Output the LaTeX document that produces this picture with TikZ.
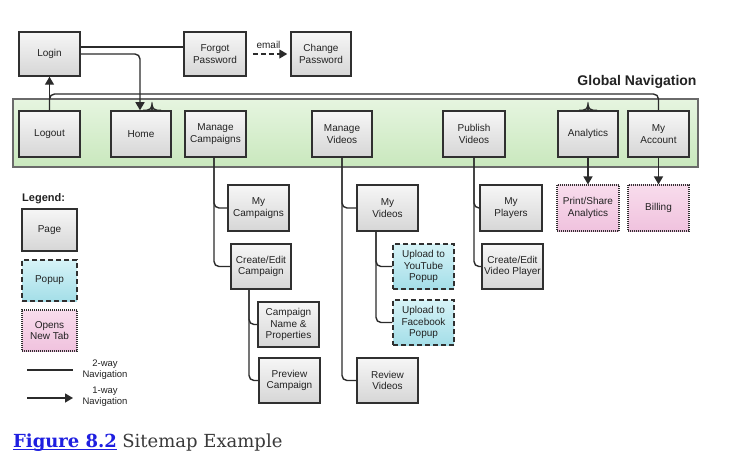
\documentclass[tikz,border=0pt]{standalone}
\usepackage{fontspec}
\setmainfont{Liberation Sans}
\newfontfamily\capfont{DejaVu Serif}
\usetikzlibrary{arrows.meta,calc}
\definecolor{boxline}{HTML}{303030}
\definecolor{linkcol}{HTML}{2B2B2B}
\definecolor{txt}{HTML}{222222}
\definecolor{pagetop}{HTML}{F6F6F6}
\definecolor{pagebot}{HTML}{D6D6D6}
\definecolor{bandtop}{HTML}{E6F5E0}
\definecolor{bandbot}{HTML}{C9E8BD}
\definecolor{bandline}{HTML}{6A6A6A}
\definecolor{poptop}{HTML}{D6F3F7}
\definecolor{popbot}{HTML}{A4DEE8}
\definecolor{tabtop}{HTML}{F8DCEC}
\definecolor{tabbot}{HTML}{F0C2DE}
\definecolor{capblue}{HTML}{1F1FE0}
\definecolor{capgray}{HTML}{3A3A3A}
\tikzset{
  x=1pt,y=-1pt,
  boxtext/.style={font=\fontsize{10}{11.6}\selectfont, text=txt, align=center, inner sep=0pt},
  pagebox/.style={boxtext, draw=boxline, line width=1.5pt, top color=pagetop, bottom color=pagebot, minimum width=61pt, minimum height=45pt},
  popbox/.style={boxtext, draw=boxline, line width=1.5pt, dash pattern=on 5pt off 3pt, top color=poptop, bottom color=popbot, minimum width=61pt, minimum height=45pt},
  tabbox/.style={boxtext, draw=boxline, line width=1.1pt, dash pattern=on 1pt off 1pt, top color=tabtop, bottom color=tabbot, minimum width=61pt, minimum height=45pt},
  twoway/.style={draw=linkcol, line width=1.4pt, rounded corners=5pt},
  oneway/.style={draw=linkcol, line width=1.4pt, rounded corners=5pt, -{Triangle[width=9pt,length=8pt]}},
  labeltext/.style={font=\fontsize{9.5}{11}\selectfont, text=txt, align=center, inner sep=0pt},
}
\begin{document}
\begin{tikzpicture}
\useasboundingbox (0,0) rectangle (750,468);
% global navigation band
\node[draw=bandline, line width=1.1pt, top color=bandtop, bottom color=bandbot, minimum width=685pt, minimum height=68pt, inner sep=0pt] (band) at (355.5,133) {};
\node[font=\bfseries\fontsize{14}{16}\selectfont, text=txt, inner sep=0pt] (gnlabel) at (637,82) {Global Navigation};
\coordinate (gn) at (0,94);

% top row
\node[pagebox, minimum height=44pt] (login) at (49.5,54) {Login};
\node[pagebox, minimum width=62pt, minimum height=44pt] (forgot) at (215,54) {Forgot\\Password};
\node[pagebox, minimum width=60pt, minimum height=44pt] (change) at (321,54) {Change\\Password};

% nav row
\node[pagebox, minimum height=46pt] (logout) at (49.5,134) {Logout};
\node[pagebox, minimum width=60pt, minimum height=46pt] (home) at (141,134) {Home};
\node[pagebox, minimum height=46pt] (mcamp) at (215.5,134) {Manage\\Campaigns};
\node[pagebox, minimum width=60pt, minimum height=46pt] (mvid) at (342,134) {Manage\\Videos};
\node[pagebox, minimum width=62pt, minimum height=46pt] (pubvid) at (474,134) {Publish\\Videos};
\node[pagebox, minimum width=60pt, minimum height=46pt] (analytics) at (588,134) {Analytics};
\node[pagebox, minimum height=46pt] (myacct) at (658.5,134) {My\\Account};

% sub pages
\node[pagebox, minimum height=46pt] (mycamp) at (258.5,208) {My\\Campaigns};
\node[pagebox, minimum width=60pt] (cecamp) at (261,266.5) {Create/Edit\\Campaign};
\node[pagebox] (cnp) at (288.5,324.5) {Campaign\\Name \&\\Properties};
\node[pagebox] (prevcamp) at (289.5,380.5) {Preview\\Campaign};
\node[pagebox, minimum height=46pt] (myvid) at (387.5,208) {My\\Videos};
\node[popbox] (yt) at (423.5,266.5) {Upload to\\YouTube\\Popup};
\node[popbox] (fb) at (423.5,322.5) {Upload to\\Facebook\\Popup};
\node[pagebox] (revvid) at (387.5,380.5) {Review\\Videos};
\node[pagebox, minimum width=62pt, minimum height=46pt] (myplayers) at (511,208) {My\\Players};
\node[pagebox] (cevp) at (512.5,266.5) {Create/Edit\\Video Player};
\node[tabbox, minimum width=62pt, minimum height=46pt] (print) at (588,208) {Print/Share\\Analytics};
\node[tabbox, minimum height=46pt] (billing) at (658.5,208) {Billing};

% top connectors
\draw[twoway] ($(login.east)+(0,-7)$) -- ($(forgot.west)+(0,-7)$);
\draw[oneway] (login.east) -| ($(home.north)+(-1,0)$);
\draw[oneway] (logout.north) -- (login.south);
\draw[draw=linkcol, line width=1.4pt, dash pattern=on 5pt off 3pt, shorten <=6pt, shorten >=3pt, -{Triangle[width=9pt,length=8pt]}] (forgot.east) -- node[labeltext, font=\fontsize{10}{11}\selectfont, above=5pt] (emaillbl) {email} (change.west);

% global navigation line
\draw[twoway] (logout.north) -- (logout.north |- gn) -- (myacct.north |- gn) -- (myacct.north);
\draw[twoway] ($(home.north)+(2,0)$ |- gn) -| ($(home.north)+(11,0)$);
\draw[twoway] ($(home.north)+(20,0)$ |- gn) -| ($(home.north)+(11,0)$);
\draw[twoway] ($(analytics.north)+(-9,0)$ |- gn) -| (analytics.north);
\draw[twoway] ($(analytics.north)+(9,0)$ |- gn) -| (analytics.north);

% tree connectors
\draw[twoway] ($(mcamp.south)+(-1.5,0)$) |- (mycamp.west);
\draw[twoway] ($(mcamp.south)+(-1.5,0)$) |- (cecamp.west);
\draw[twoway] ($(cecamp.south)+(-12,0)$) |- (cnp.west);
\draw[twoway] ($(cecamp.south)+(-12,0)$) |- (prevcamp.west);
\draw[twoway] (mvid.south) |- (myvid.west);
\draw[twoway] (mvid.south) |- (revvid.west);
\draw[twoway] ($(myvid.south)+(-11.5,0)$) |- (yt.west);
\draw[twoway] ($(myvid.south)+(-11.5,0)$) |- (fb.west);
\draw[twoway] (pubvid.south) |- (myplayers.west);
\draw[twoway] (pubvid.south) |- (cevp.west);
\draw[oneway, rounded corners=0pt] (analytics.south) -- (print.north);
\draw[oneway, rounded corners=0pt] (myacct.south) -- (billing.north);

% legend
\node[font=\bfseries\fontsize{11}{13}\selectfont, text=txt, anchor=west, inner sep=0pt] (legtitle) at (22,199) {Legend:};
\node[pagebox, minimum width=55pt, minimum height=42pt] (legpage) at (49.5,230) {Page};
\node[popbox, minimum width=55pt, minimum height=41pt] (legpop) at (49.5,280.5) {Popup};
\node[tabbox, minimum width=55pt, minimum height=41pt] (legtab) at (49.5,330.5) {Opens\\New Tab};
\coordinate (l2a) at (27,370);
\coordinate (l2b) at (73,370);
\coordinate (l1a) at (27,398);
\coordinate (l1b) at (73,398);
\draw[twoway] (l2a) -- (l2b);
\draw[oneway] (l1a) -- (l1b);
\node[labeltext] (leg2) at (105,370) {2-way\\Navigation};
\node[labeltext] (leg1) at (105,397) {1-way\\Navigation};

% caption
\node[anchor=base west, inner sep=0pt, font=\capfont\fontsize{18}{21}\selectfont\bfseries, text=capblue] (figno) at (13,447) {Figure 8.2};
\draw[capblue, line width=1pt] ($(figno.base west)+(0,2)$) -- ($(figno.base east)+(0,2)$);
\node[anchor=base west, inner sep=0pt, font=\capfont\fontsize{18}{21}\selectfont, text=capgray] (captext) at ($(figno.base east)+(5,0)$) {Sitemap Example};
\end{tikzpicture}
\end{document}
